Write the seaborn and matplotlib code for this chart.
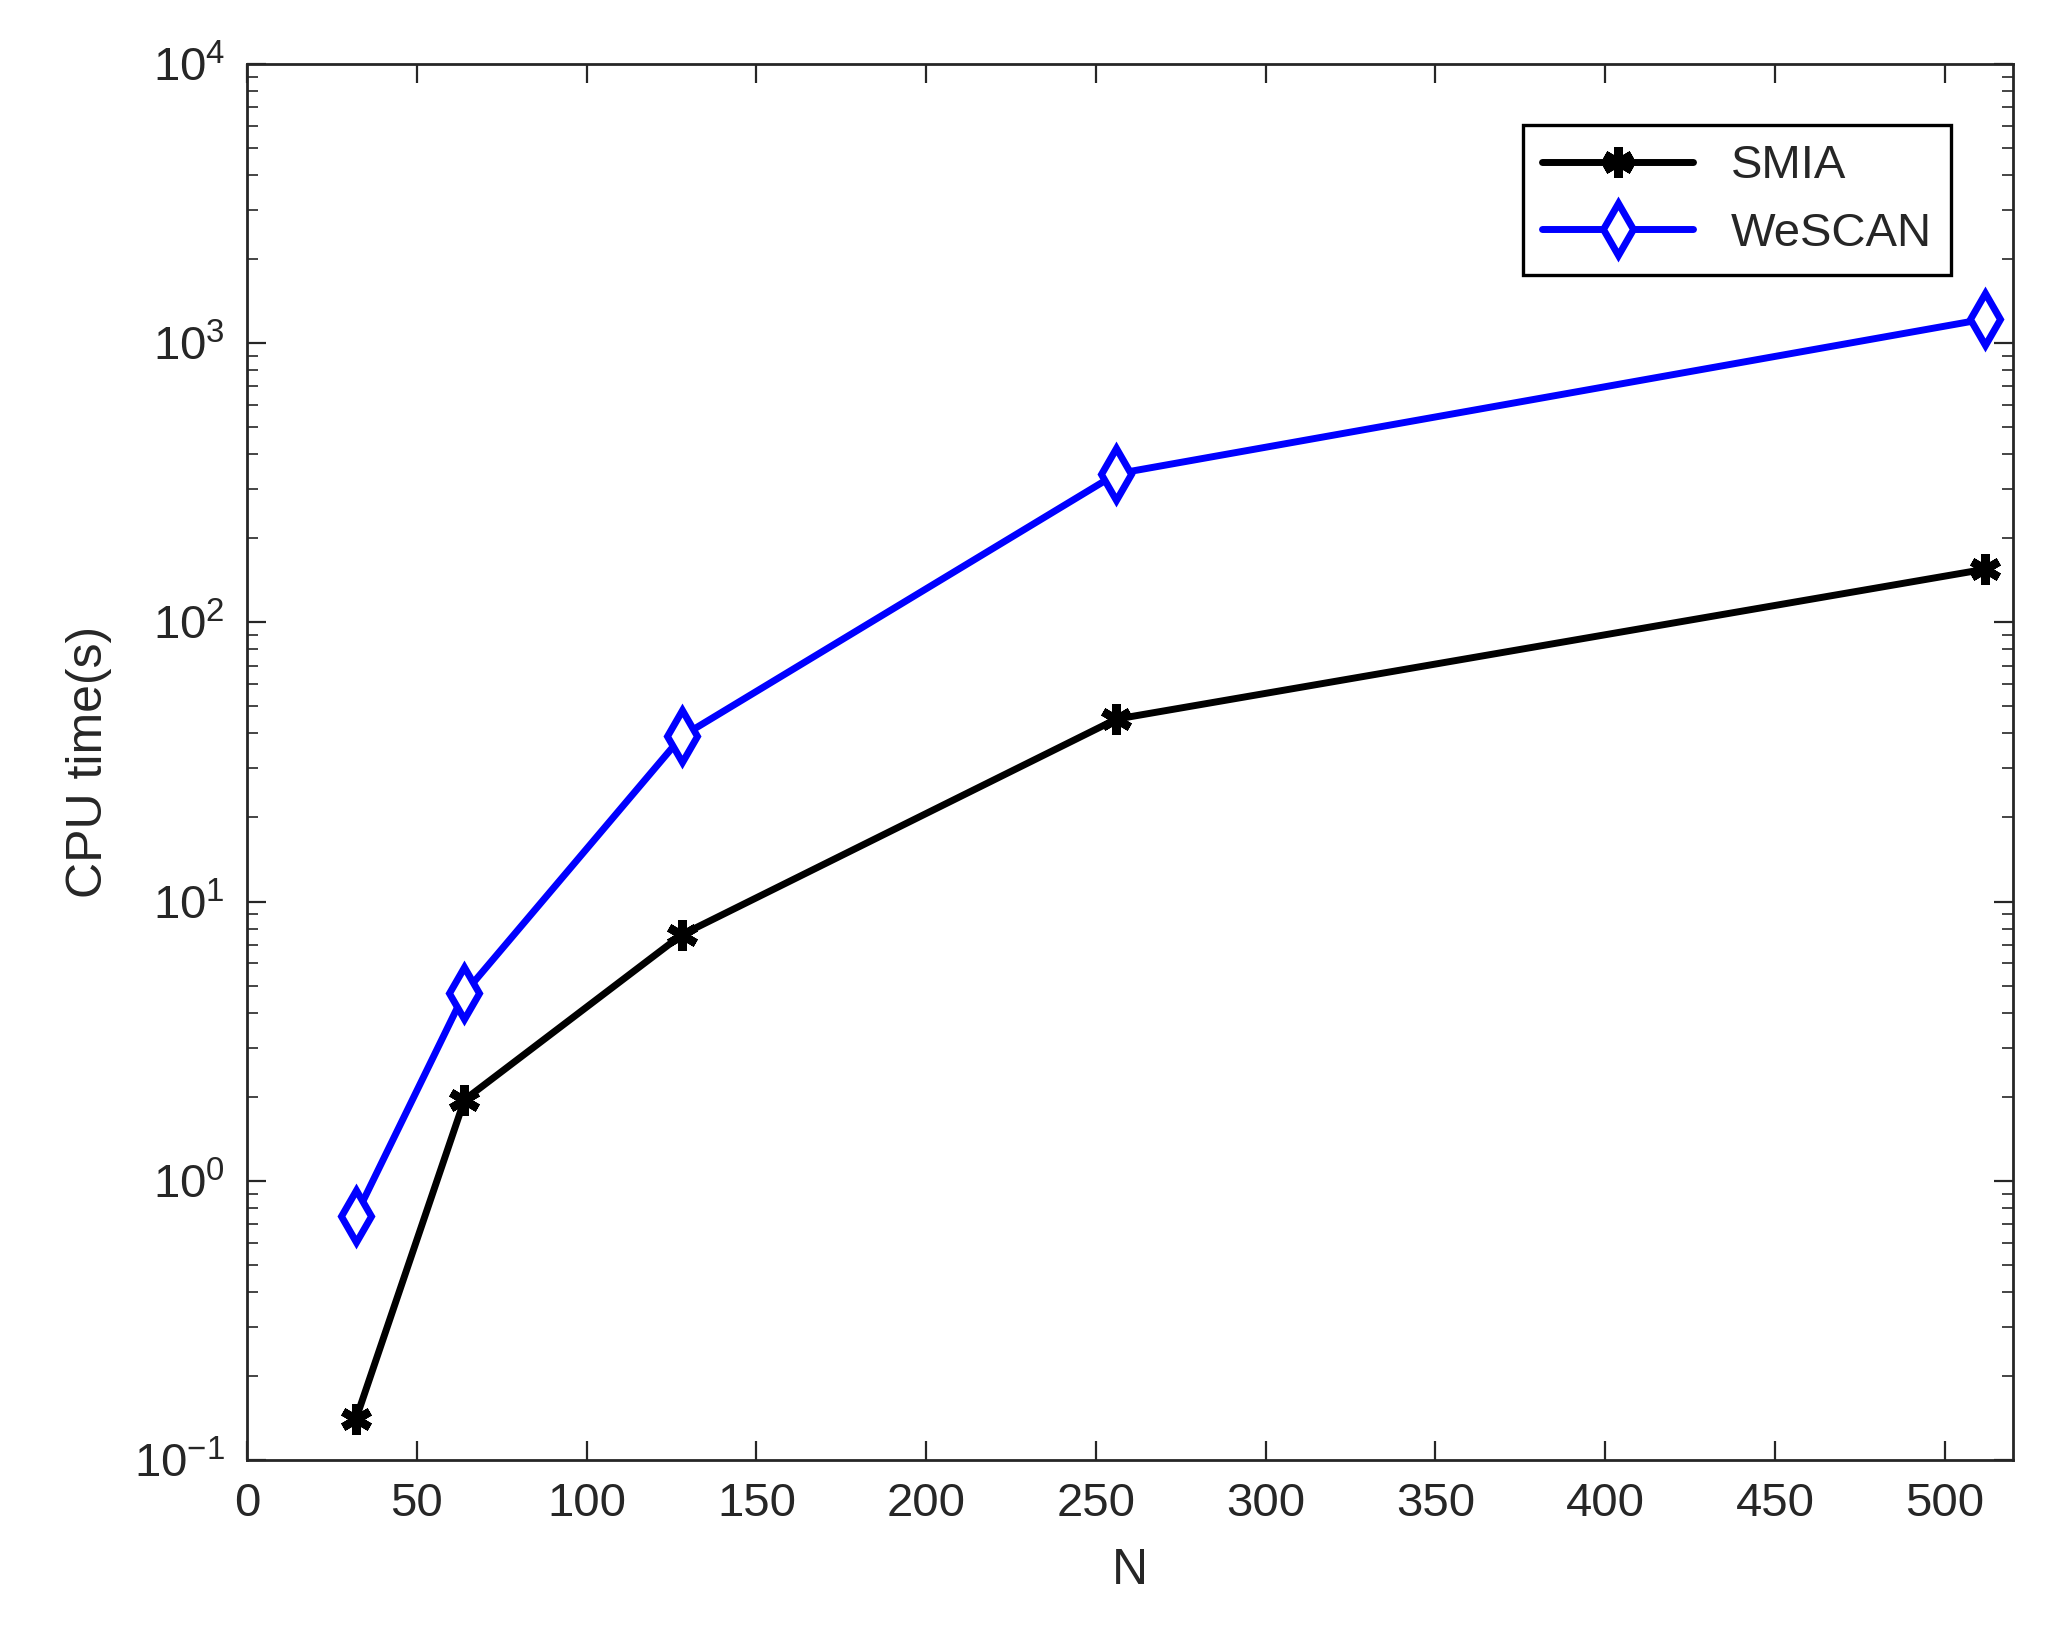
import matplotlib
matplotlib.use('Agg')
import matplotlib.pyplot as plt
import seaborn as sns
import pandas as pd

sns.set_style('ticks')
plt.rcParams['font.family'] = ['Liberation Sans', 'DejaVu Sans']

n_vals = [32, 64, 128, 256, 512]
smia_time = [0.14, 1.95, 7.6, 45, 155]
wescan_time = [0.75, 4.7, 39, 340, 1220]

df = pd.DataFrame({'N': n_vals * 2,
                   'time': smia_time + wescan_time,
                   'method': ['SMIA'] * 5 + ['WeSCAN'] * 5})

fig = plt.figure(figsize=(10.3, 8.175), dpi=200)
ax = fig.add_axes([0.12, 0.107, 0.857, 0.854])

sns.lineplot(data=df[df['method'] == 'SMIA'], x='N', y='time', ax=ax,
             color='black', linewidth=2.5, marker=(6, 2, 0), markersize=11,
             markeredgewidth=3, markeredgecolor='black', label='SMIA')
sns.lineplot(data=df[df['method'] == 'WeSCAN'], x='N', y='time', ax=ax,
             color='#0000ff', linewidth=2.5, marker='d', markersize=13,
             markerfacecolor='white', markeredgewidth=2.5, markeredgecolor='#0000ff',
             label='WeSCAN')

ax.set_yscale('log')
ax.set_ylim(0.1, 1e4)
ax.set_xlim(0, 520)
ax.set_xticks(range(0, 501, 50))
txt = '#262626'
ax.set_xlabel('N', fontsize=18, color=txt, labelpad=8)
ax.set_ylabel('CPU time(s)', fontsize=18, color=txt, labelpad=8)
ax.tick_params(which='both', direction='in', top=True, right=True, labelsize=17, colors=txt)
ax.tick_params(which='major', length=7, pad=8)
ax.tick_params(which='minor', length=4)
for s in ax.spines.values():
    s.set_linewidth(1.0)
    s.set_color(txt)

leg = ax.legend(loc='upper right', fontsize=17, fancybox=False, edgecolor='black',
                framealpha=1, borderaxespad=1.3, handlelength=3.2)
leg.get_frame().set_linewidth(1.2)
for t in leg.get_texts():
    t.set_color(txt)

fig.savefig('out.png', dpi=200)
